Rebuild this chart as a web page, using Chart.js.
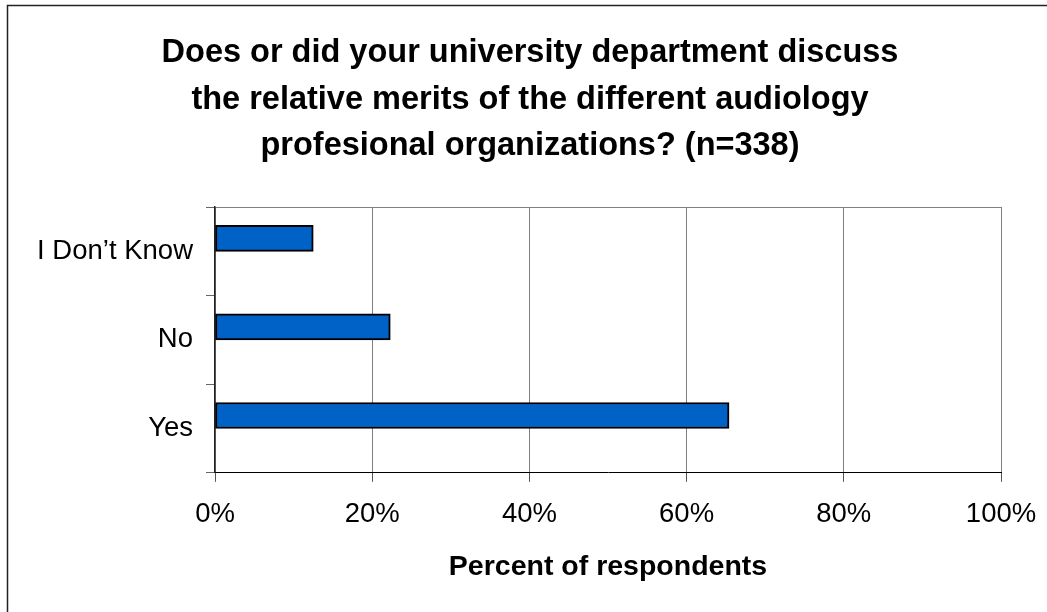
<!DOCTYPE html>
<html>
<head>
<meta charset="utf-8">
<script src="https://cdn.jsdelivr.net/npm/chart.js@4"></script>
<style>
  html, body { margin: 0; padding: 0; background: #ffffff; }
  #wrap { position: relative; width: 1047px; height: 612px; }
</style>
</head>
<body>
<div id="wrap"><canvas id="c"></canvas></div>
<script>
const chartTitle = [
  "Does or did your university department discuss",
  "the relative merits of the different audiology",
  "profesional organizations? (n=338)"
];
const categories = ["I Don\u2019t Know", "No", "Yes"];
const percentValues = [12.5, 22.3, 65.4];
const xTickValues = [0, 20, 40, 60, 80, 100];
const xAxisTitle = "Percent of respondents";

const FONT = "'Liberation Sans', Arial, Helvetica, sans-serif";

const framePlugin = {
  id: 'frame',
  beforeDraw(chart) {
    const ctx = chart.ctx;
    const a = chart.chartArea;
    ctx.save();
    ctx.fillStyle = '#ffffff';
    ctx.fillRect(0, 0, chart.width, chart.height);
    // outer frame
    ctx.strokeStyle = '#222222';
    ctx.lineWidth = 1.5;
    ctx.beginPath();
    ctx.moveTo(7.5, chart.height + 5);
    ctx.lineTo(7.5, 5.5);
    ctx.lineTo(chart.width + 5, 5.5);
    ctx.stroke();
    // plot area top border
    ctx.strokeStyle = '#808080';
    ctx.lineWidth = 1;
    ctx.beginPath();
    ctx.moveTo(a.left, Math.round(a.top) + 0.5);
    ctx.lineTo(a.right, Math.round(a.top) + 0.5);
    ctx.stroke();
    ctx.restore();
  }
};

new Chart(document.getElementById('c'), {
  type: 'bar',
  data: {
    labels: categories,
    datasets: [
      {
        label: 'Percent',
        data: percentValues,
        backgroundColor: '#0061c6',
        borderColor: '#000000',
        borderWidth: 2,
        borderSkipped: false,
        barThickness: 26
      },
      {
        label: 'second series (empty)',
        data: [],
        barThickness: 26
      }
    ]
  },
  options: {
    indexAxis: 'y',
    responsive: true,
    maintainAspectRatio: false,
    animation: false,
    devicePixelRatio: 1,
    layout: { padding: { left: 59, right: 46, top: 0, bottom: 28 } },
    plugins: {
      legend: { display: false },
      tooltip: { enabled: false },
      title: {
        display: true,
        text: chartTitle,
        color: '#000000',
        font: { family: FONT, size: 32.5, weight: 'bold', lineHeight: 1.431 },
        padding: { top: 30, bottom: 37.5 }
      }
    },
    scales: {
      x: {
        type: 'linear',
        min: 0,
        max: 100,
        afterBuildTicks(scale) {
          scale.ticks = xTickValues.map(v => ({ value: v }));
        },
        afterFit(scale) {
          scale.paddingLeft = 0;
          scale.paddingRight = 0;
        },
        ticks: {
          color: '#000000',
          font: { family: FONT, size: 27.5 },
          padding: 16,
          callback: v => v + '%'
        },
        grid: {
          color: '#808080',
          lineWidth: 1,
          drawTicks: true,
          tickLength: 9,
          tickColor: '#555555'
        },
        border: { display: true, color: '#000000', width: 1 },
        title: {
          display: true,
          text: xAxisTitle,
          color: '#000000',
          font: { family: FONT, size: 28.5, weight: 'bold', lineHeight: 1.2 },
          padding: { top: 3, bottom: 0 }
        }
      },
      y: {
        type: 'category',
        afterFit(scale) {
          scale.width = 156;
          // let the category labels extend left of the scale box (no clipping)
          scale._computeLabelArea = function () { return undefined; };
        },
        ticks: {
          color: '#000000',
          font: { family: FONT, size: 27.5 },
          padding: 13
        },
        grid: {
          offset: true,
          drawOnChartArea: false,
          drawTicks: true,
          tickLength: 9,
          tickColor: '#666666'
        },
        border: { display: true, color: '#222222', width: 1.5 }
      }
    }
  },
  plugins: [framePlugin]
});
</script>
</body>
</html>
